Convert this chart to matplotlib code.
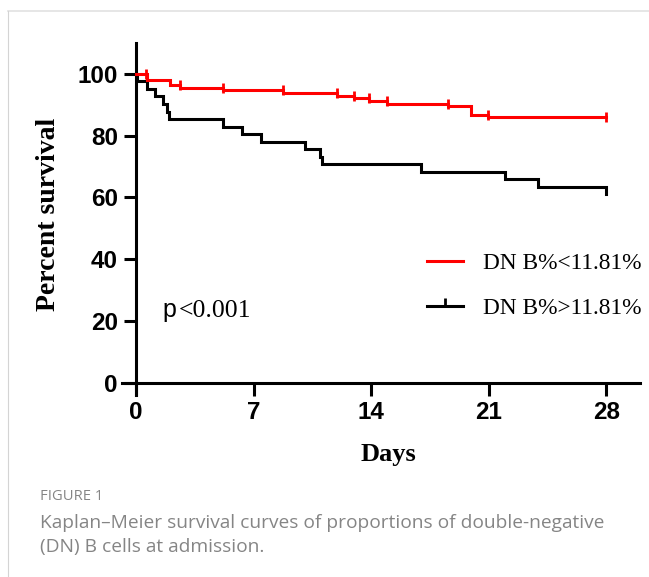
import numpy as np
import matplotlib
matplotlib.use('Agg')
import matplotlib.pyplot as plt
from matplotlib.lines import Line2D
from matplotlib.path import Path

# ── DATA ──────────────────────────────────────────────────────────────────────
# DN B% < 11.81%  (red)
low_t = [0, 0.63, 2.0, 2.6, 5.2, 8.76, 11.97, 12.98, 13.87, 14.96, 18.56, 19.95, 20.95, 28]
low_s = [100, 98.1, 96.3, 95.4, 94.7, 93.9, 92.9, 92.2, 91.3, 90.3, 89.5, 86.7, 85.9, 85.9]
low_cens = [0.6, 2.6, 5.2, 8.76, 11.97, 12.98, 13.87, 14.96, 18.56, 20.95, 28]

# DN B% > 11.81%  (black)
high_t = [0, 0.05, 0.67, 1.13, 1.63, 1.82, 1.98, 5.19, 6.32, 7.43, 10.09, 10.94,
          11.08, 16.99, 21.94, 23.92, 28]
high_s = [100, 97.6, 95.1, 92.7, 90.2, 87.8, 85.4, 82.9, 80.5, 78.0, 75.6, 73.2,
          70.7, 68.3, 65.9, 63.4, 61.0]

x_ticks = [0, 7, 14, 21, 28]
y_ticks = [0, 20, 40, 60, 80, 100]
labels = ["DN B%<11.81%", "DN B%>11.81%"]
RED = "#ff0000"

SANS = ["Liberation Sans", "DejaVu Sans"]
SERIF = ["Liberation Serif", "DejaVu Serif"]
CAPTION = ["Open Sans", "DejaVu Sans"]

# upward-only tick used in the legend for the black group
UP_TICK = Path([(0, 0), (0, 1)], [Path.MOVETO, Path.LINETO])


def level_before(t_steps, s_steps, t):
    """survival level just before any drop at time t (where the censor tick sits)"""
    i = np.searchsorted(t_steps, t, side="left")
    return s_steps[max(i - 1, 0)]


# ── FIGURE ────────────────────────────────────────────────────────────────────
fig = plt.figure(figsize=(6.49, 5.77), dpi=100)
ax = fig.add_axes([0.1875, 0.3154, 0.7986, 0.610])

ax.plot(low_t, low_s, drawstyle="steps-post", color=RED, lw=2.2,
        solid_joinstyle="miter", zorder=4)
cens_y = [level_before(low_t, low_s, t) for t in low_cens]
ax.plot(low_cens, cens_y, ls="none", marker="|", ms=7, mew=2, color=RED, zorder=4)

ax.plot(high_t, high_s, drawstyle="steps-post", color="black", lw=2.2,
        solid_joinstyle="miter", zorder=3)

ax.set_xlim(-0.85, 30)
ax.set_ylim(-4, 110)
ax.spines[["top", "right"]].set_visible(False)
ax.spines["left"].set_position(("data", 0))
ax.spines["bottom"].set_position(("data", 0))
for sp in ("left", "bottom"):
    ax.spines[sp].set_linewidth(2.2)

ax.set_xticks(x_ticks)
ax.set_yticks(y_ticks)
ax.tick_params(direction="out", length=9, width=2.2, pad=4)
for lab in ax.get_xticklabels() + ax.get_yticklabels():
    lab.set_fontfamily(SANS)
    lab.set_fontweight("bold")
    lab.set_fontsize(17.5)

fig.text(49 / 649, 1 - 214 / 577, "Percent survival", rotation=90,
         ha="center", va="center", family=SERIF, fontweight="bold", fontsize=20)
fig.text(388 / 649, 1 - 461 / 577, "Days", ha="center", va="baseline",
         family=SERIF, fontweight="bold", fontsize=19)

# p value
fig.text(162 / 649, 1 - 317 / 577, "p", ha="left", va="baseline",
         family=SANS, fontsize=18)
fig.text(179 / 649, 1 - 317 / 577, "<0.001", ha="left", va="baseline",
         family=SERIF, fontsize=18.5)

# legend
handles = [
    Line2D([], [], color=RED, lw=2.2),
    Line2D([], [], color="black", lw=2.2, marker=UP_TICK, ms=11, mew=2),
]
fig.legend(handles, labels, loc="upper left", bbox_to_anchor=(427 / 649, 1 - 253 / 577),
           frameon=False, prop={"family": SERIF, "size": 16.8}, handlelength=1.55,
           handletextpad=0.85, labelspacing=1.0, borderpad=0, borderaxespad=0)

# caption
fig.text(40 / 649, 1 - 497 / 577, "FIGURE 1", ha="left", va="center",
         family=CAPTION, fontsize=10.6, color="#858585")
fig.text(40 / 649, 1 - 523 / 577,
         "Kaplan\u2013Meier survival curves of proportions of double-negative",
         ha="left", va="center", family=CAPTION, fontsize=13.8, color="#858585")
fig.text(40 / 649, 1 - 547 / 577, "(DN) B cells at admission.",
         ha="left", va="center", family=CAPTION, fontsize=13.8, color="#858585")

# card border
fig.add_artist(Line2D([8 / 649, 1], [1 - 11 / 577] * 2, transform=fig.transFigure,
                      color="#e2e2e2", lw=1.2))
fig.add_artist(Line2D([8 / 649] * 2, [0, 1 - 11 / 577], transform=fig.transFigure,
                      color="#d4d4d4", lw=0.8))

fig.savefig("out.png", dpi=100)
